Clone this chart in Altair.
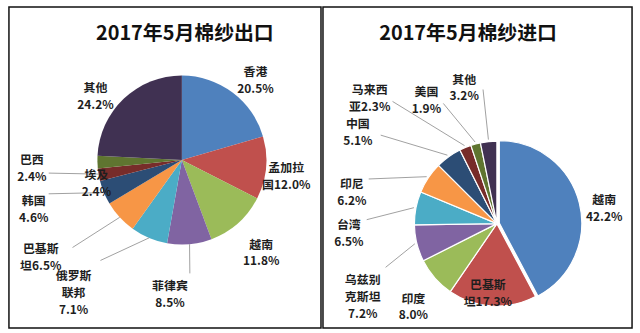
import math
import altair as alt
import pandas as pd

# ---------------- data ----------------
exp_title = "2017年5月棉纱出口"
exp_names = ["香港", "孟加拉国", "越南", "菲律宾", "俄罗斯联邦", "巴基斯坦", "韩国", "埃及", "巴西", "其他"]
exp_values = [20.5, 12.0, 11.8, 8.5, 7.1, 6.5, 4.6, 2.4, 2.4, 24.2]
exp_labels = ["香港\n20.5%", "孟加拉\n国12.0%", "越南\n11.8%", "菲律宾\n8.5%", "俄罗斯\n联邦\n7.1%",
              "巴基斯\n坦6.5%", "韩国\n4.6%", "埃及\n2.4%", "巴西\n2.4%", "其他\n24.2%"]

imp_title = "2017年5月棉纱进口"
imp_names = ["越南", "巴基斯坦", "印度", "乌兹别克斯坦", "台湾", "印尼", "中国", "马来西亚", "美国", "其他"]
imp_values = [42.2, 17.3, 8.0, 7.2, 6.5, 6.2, 5.1, 2.3, 1.9, 3.2]
imp_labels = ["越南\n42.2%", "巴基斯\n坦17.3%", "印度\n8.0%", "乌兹别\n克斯坦\n7.2%", "台湾\n6.5%",
              "印尼\n6.2%", "中国\n5.1%", "马来西\n亚2.3%", "美国\n1.9%", "其他\n3.2%"]

colors = ["#4F81BD", "#C0504D", "#9BBB59", "#8064A2", "#4BACC6",
          "#F79646", "#2C4D75", "#772C2A", "#5F7530", "#403152"]

# ---------------- layout (label offsets from slice edge point, leader ends) ----------------
exp_label_off = [(23, -20.5), (20.4, 0.5), (23.3, 21.7), (-19.7, 42.4), (-75.9, 38.7),
                 (-79.5, 31.9), (-70.6, 8.2), (-2.3, 0.1), (-66, -2.1), (-28.4, -11)]
exp_leader_end = [None, None, None, (0.3, 29.4), (-48.9, 22.7),
                  (-47.5, 30.4), (-55.6, 1.2), None, (-49, 11), None]
exp_leader_start = [(0, 0)] * 8 + [(2, 12), (0, 0)]

imp_label_off = [(27.5, -3.4), (-4.4, -20.8), (-21.6, 20.8), (-54.4, 36.7), (-67.5, 16.7),
                 (-77, 6.7), (-91.3, -32.8), (-96.2, -57.8), (-49.5, -52.3), (-24.6, -62.4)]
imp_leader_end = [None, None, None, (-31.4, 24.2), (-49.5, 11.7),
                  (-60, 1.2), (-68.3, -21.8), (-73.2, -46.3), (-32.5, -40.8), (-5.6, -52.4)]
imp_leader_start = [(0, 0)] * 10

FONT = "Noto Sans CJK SC"
H = 323


def panel(title, names, values, labels, label_off, leader_end, leader_start,
          width, cx, cy, r, title_x, stroke_w, explode_first, lead_r_add):
    total = sum(values)
    rows = []
    cum = 0.0
    for i, (n, v) in enumerate(zip(names, values)):
        start, end = cum, cum + v
        cum = end
        mid = (start + end) / 2 / total * 2 * math.pi
        s, c = math.sin(mid), math.cos(mid)
        ex, ey = cx + r * s, cy - r * c
        lx, ly = ex + label_off[i][0], ey + label_off[i][1]
        row = dict(name=n, value=v, start=start, end=end, col=colors[i], label=labels[i],
                   lx=lx, ly=ly, idx=i)
        if leader_end[i] is not None:
            row["sx"] = cx + (r + lead_r_add) * s + leader_start[i][0]
            row["sy"] = cy - (r + lead_r_add) * c + leader_start[i][1]
            row["qx"] = ex + leader_end[i][0]
            row["qy"] = ey + leader_end[i][1]
        rows.append(row)
    df = pd.DataFrame(rows)

    theta_scale = alt.Scale(domain=[0, total], range=[0, 2 * math.pi])
    base = alt.Chart(df)

    def arc_layer(filter_expr, x, y):
        return base.transform_filter(filter_expr).mark_arc(
            outerRadius=r, stroke="white", strokeWidth=stroke_w
        ).encode(
            theta=alt.Theta("start:Q", scale=theta_scale),
            theta2="end:Q",
            color=alt.Color("col:N", scale=None),
            x=alt.value(x), y=alt.value(y),
        )

    first = names[0]
    if explode_first > 0:
        mid0 = (values[0] / 2) / total * 2 * math.pi
        rest = arc_layer(f"datum.name != '{first}'", cx, cy)
        ex_arc = arc_layer(f"datum.name == '{first}'",
                           cx + explode_first * math.sin(mid0),
                           cy - explode_first * math.cos(mid0))
        arcs = rest + ex_arc
    else:
        arcs = arc_layer("true", cx, cy)

    leaders = base.transform_filter("isValid(datum.qx)").mark_rule(
        color="#a0a0a0", strokeWidth=1
    ).encode(
        x=alt.X("sx:Q", scale=None, axis=None),
        y=alt.Y("sy:Q", scale=None, axis=None),
        x2="qx:Q", y2="qy:Q",
    )

    texts = base.mark_text(
        font=FONT, fontWeight="bold", fontSize=12, lineHeight=17,
        align="center", baseline="middle", lineBreak="\n", color="#1e1e1e"
    ).encode(
        x=alt.X("lx:Q", scale=None, axis=None),
        y=alt.Y("ly:Q", scale=None, axis=None),
        text="label:N",
    )

    ttl = alt.Chart(pd.DataFrame({"t": [title]})).mark_text(
        font=FONT, fontWeight="bold", fontSize=20, align="center", baseline="middle",
        color="#111111"
    ).encode(text="t:N", x=alt.value(title_x), y=alt.value(27))

    return alt.layer(arcs, leaders, texts, ttl).properties(width=width, height=H)


left = panel(exp_title, exp_names, exp_values, exp_labels, exp_label_off, exp_leader_end,
             exp_leader_start, width=314, cx=174, cy=154, r=85, title_x=177,
             stroke_w=0, explode_first=0, lead_r_add=0)
right = panel(imp_title, imp_names, imp_values, imp_labels, imp_label_off, imp_leader_end,
              imp_leader_start, width=311, cx=175, cy=218, r=83, title_x=146,
              stroke_w=1.2, explode_first=2.5, lead_r_add=2)

chart = alt.hconcat(left, right, spacing=0).properties(
    padding={"left": 8, "top": 5, "right": 7, "bottom": 5},
    background="white",
).configure_view(stroke="#111111", strokeWidth=1.5)

chart.save("out.html", embed_options={"renderer": "svg", "actions": False})
